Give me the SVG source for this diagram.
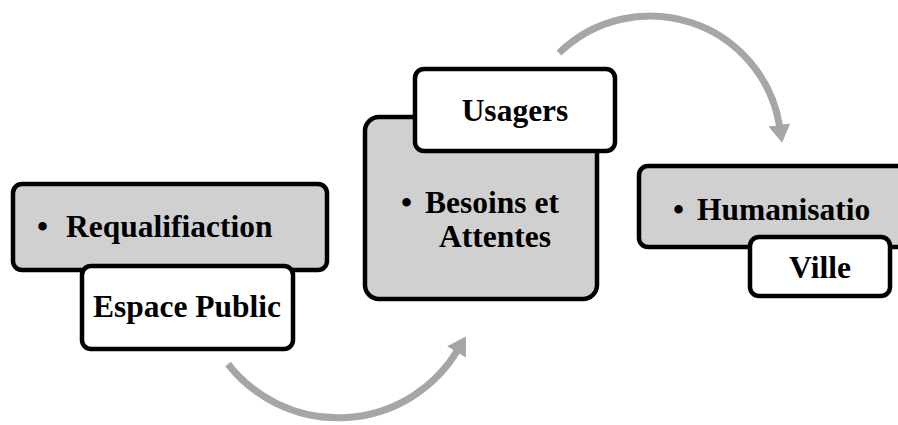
<svg xmlns="http://www.w3.org/2000/svg" width="898" height="425" viewBox="0 0 898 425">
<style>
.gray{fill:#D0D0D0;stroke:#000;stroke-width:4.5}
.white{fill:#FFF;stroke:#000;stroke-width:4.5}
.t{font-family:"Liberation Serif","Times New Roman",serif;font-weight:bold;font-size:31.5px;fill:#000}
.arc{fill:none;stroke:#A6A6A6;stroke-width:7}
</style>
<defs>
<marker id="ah" markerUnits="userSpaceOnUse" markerWidth="22" markerHeight="24" refX="2" refY="11" orient="auto">
<path d="M0,0 L18,11 L0,22 Z" fill="#A6A6A6"/>
</marker>
</defs>
<rect width="898" height="425" fill="#FFF"/>
<g id="connectors">
<path class="arc" d="M 228 364 A 139.5 139.5 0 0 0 457.6 350.3" marker-end="url(#ah)"/>
<path class="arc" d="M 559 53 A 131 131 0 0 1 779.7 126.9" marker-end="url(#ah)"/>
</g>
<g id="node1">
<rect class="gray" x="13" y="184" width="314" height="86" rx="9"/>
<text class="t" y="237"><tspan x="37">•</tspan><tspan x="66">Requalifiaction</tspan></text>
<rect class="white" x="82" y="266" width="211" height="83" rx="9"/>
<text class="t" x="187" y="317" text-anchor="middle">Espace Public</text>
</g>
<g id="node2">
<rect class="gray" x="365" y="117" width="232" height="182" rx="14"/>
<text class="t" y="213"><tspan x="401">•</tspan><tspan x="425">Besoins et</tspan></text>
<text class="t" x="439" y="247">Attentes</text>
<rect class="white" x="415" y="69" width="200" height="82" rx="9"/>
<text class="t" x="515" y="121" text-anchor="middle">Usagers</text>
</g>
<g id="node3">
<rect class="gray" x="639" y="166" width="290" height="81" rx="9"/>
<text class="t" y="220"><tspan x="673">•</tspan><tspan x="697">Humanisatio</tspan></text>
<rect class="white" x="750" y="237" width="140" height="59" rx="9"/>
<text class="t" x="820" y="278" text-anchor="middle">Ville</text>
</g>
</svg>
